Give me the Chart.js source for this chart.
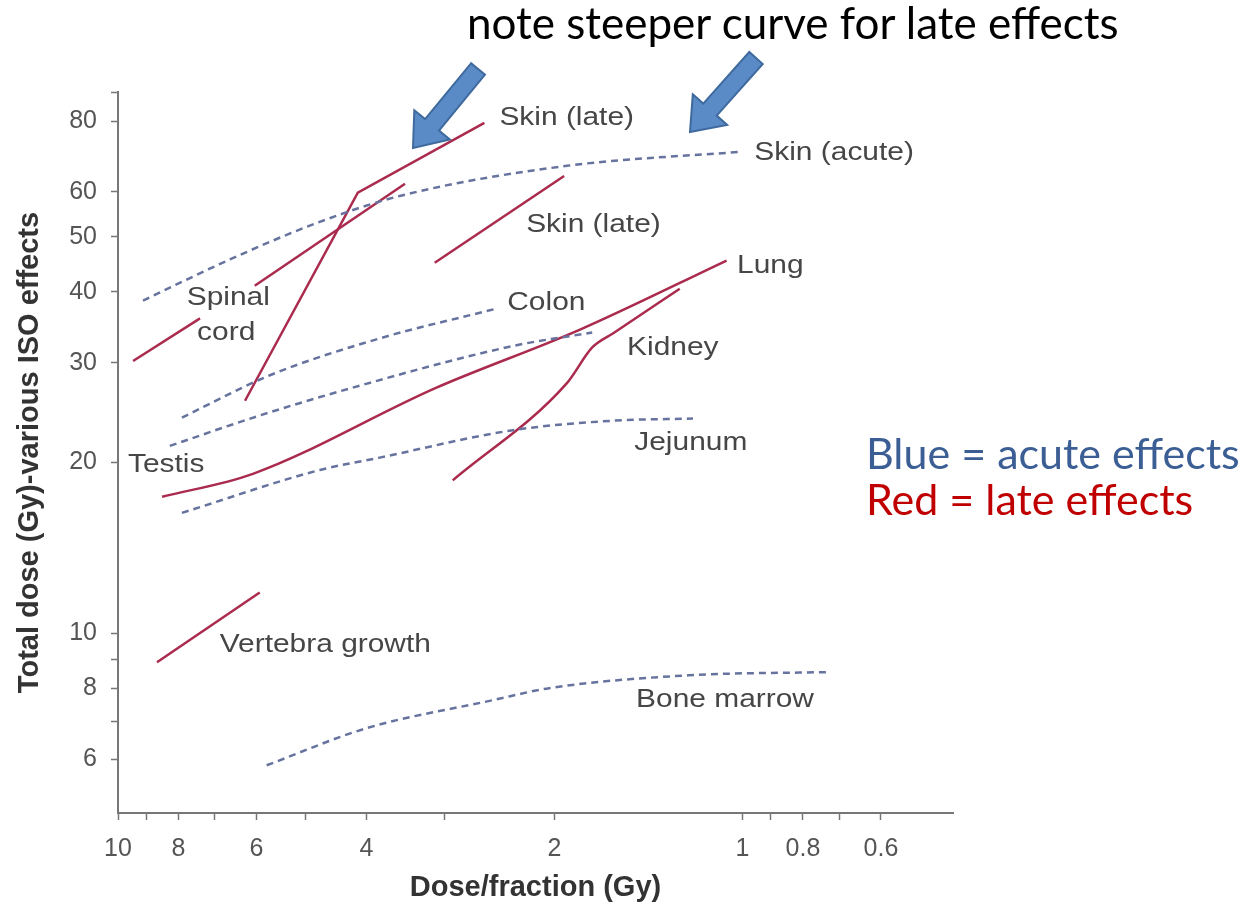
<!DOCTYPE html>
<html>
<head>
<meta charset="utf-8">
<script src="https://cdn.jsdelivr.net/npm/chart.js@4.4.1/dist/chart.umd.min.js"></script>
<style>
  body { margin: 0; background: #fff; }
  #wrap { position: relative; width: 1251px; height: 907px; }
  canvas { position: absolute; left: 0; top: 0; }
  .note { position: absolute; font-family: Lato, "Open Sans", sans-serif; white-space: nowrap; line-height: 1.2; }
</style>
</head>
<body>
<div id="wrap">
  <canvas id="isoChart" width="1251" height="907"></canvas>
  <div class="note" style="left:467px; top:-4px; font-size:44px; color:#000;">note steeper curve for late effects</div>
  <div class="note" style="left:866px; top:427px; font-size:43px; color:#3B5E94;">Blue = acute effects</div>
  <div class="note" style="left:866px; top:473px; font-size:43px; color:#C00000;">Red = late effects</div>
</div>
<script>
// ticks of both log axes
const xTickValues = [10, 9, 8, 7, 6, 5, 4, 3, 2, 1, 0.9, 0.8, 0.7, 0.6];
const xTickLabels = [10, 8, 6, 4, 2, 1, 0.8, 0.6];
const yTickValues = [90, 80, 60, 50, 40, 30, 20, 10, 9, 8, 7, 6];
const yTickLabels = [80, 60, 50, 40, 30, 20, 10, 8, 6];

// late effects (red, solid) - dose per fraction / total dose
const spinalCordDose = [9.46, 7.39];
const spinalCordTotal = [30.2, 35.9];
const skinLateADose = [6.04, 3.47];
const skinLateATotal = [41.0, 62.0];
const skinLateSteepDose = [6.26, 4.13, 2.59];
const skinLateSteepTotal = [25.7, 59.8, 79.4];
const skinLateBDose = [3.11, 1.93];
const skinLateBTotal = [45.0, 64.0];
const lungDose = [8.5, 6.08, 3.09, 1.82, 1.06];
const lungTotal = [17.4, 19.1, 27.1, 34.3, 45.4];
const kidneyDose = [2.91, 1.91, 1.74, 1.61, 1.26];
const kidneyTotal = [18.6, 27.6, 31.9, 33.8, 40.5];
const vertebraDose = [8.66, 5.93];
const vertebraTotal = [8.89, 11.8];

// acute effects (blue, dashed)
const skinAcuteDose = [9.12, 6.62, 4.80, 3.54, 1.91, 1.01];
const skinAcuteTotal = [38.6, 45.6, 52.9, 59.0, 66.7, 70.6];
const colonDose = [7.90, 5.71, 3.81, 2.49];
const colonTotal = [24.0, 28.5, 33.1, 37.3];
const testisDose = [8.26, 5.93, 4.21, 2.33, 1.74];
const testisTotal = [21.4, 24.2, 27.1, 32.1, 33.9];
const jejunumDose = [7.90, 4.75, 3.81, 2.33, 1.61, 1.20];
const jejunumTotal = [16.3, 19.4, 20.4, 22.8, 23.7, 23.9];
const boneMarrowDose = [5.78, 4.00, 2.51, 2.04, 1.22, 0.731];
const boneMarrowTotal = [5.85, 6.80, 7.62, 8.00, 8.43, 8.54];

// curve names, anchored in data units (left edge of text)
const curveLabelText = ["Skin (late)", "Skin (acute)", "Skin (late)", "Spinal", "cord", "Colon", "Lung", "Kidney", "Jejunum", "Testis", "Vertebra growth", "Bone marrow"];
const curveLabelDose = [2.45, 0.957, 2.22, 7.76, 7.47, 2.38, 1.02, 1.53, 1.49, 9.64, 6.87, 1.48];
const curveLabelTotal = [81.0, 70.3, 52.5, 39.0, 33.9, 38.3, 44.4, 31.9, 21.7, 19.8, 9.53, 7.62];

const RED = "#AA2B4E";
const BLUE = "#67739F";

function toPoints(xs, ys) {
    return xs.map((x, i) => ({ x: x, y: ys[i] }));
}

function late(xs, ys, smooth) {
    return { data: toPoints(xs, ys), borderColor: RED, borderWidth: 2.5, pointRadius: 0,
             cubicInterpolationMode: smooth ? "monotone" : "default", tension: 0, fill: false };
}

function acute(xs, ys) {
    return { data: toPoints(xs, ys), borderColor: BLUE, borderWidth: 2.5, borderDash: [7, 5], pointRadius: 0,
             cubicInterpolationMode: "monotone", fill: false };
}

const datasets = [
    acute(skinAcuteDose, skinAcuteTotal),
    acute(colonDose, colonTotal),
    acute(testisDose, testisTotal),
    acute(jejunumDose, jejunumTotal),
    acute(boneMarrowDose, boneMarrowTotal),
    late(spinalCordDose, spinalCordTotal, false),
    late(skinLateADose, skinLateATotal, false),
    late(skinLateSteepDose, skinLateSteepTotal, false),
    late(skinLateBDose, skinLateBTotal, false),
    late(lungDose, lungTotal, true),
    late(kidneyDose, kidneyTotal, true),
    late(vertebraDose, vertebraTotal, false)
];

// block arrow from tail centre to tip
function blockArrow(ctx, tx, ty, hx, hy) {
    const len = Math.hypot(hx - tx, hy - ty);
    const ux = (hx - tx) / len, uy = (hy - ty) / len;
    const px = -uy, py = ux;
    const shaft = 9, head = 23, headLen = 30;
    const bx = hx - ux * headLen, by = hy - uy * headLen;
    ctx.beginPath();
    ctx.moveTo(tx + px * shaft, ty + py * shaft);
    ctx.lineTo(bx + px * shaft, by + py * shaft);
    ctx.lineTo(bx + px * head, by + py * head);
    ctx.lineTo(hx, hy);
    ctx.lineTo(bx - px * head, by - py * head);
    ctx.lineTo(bx - px * shaft, by - py * shaft);
    ctx.lineTo(tx - px * shaft, ty - py * shaft);
    ctx.closePath();
    ctx.fillStyle = "#5B8BC7";
    ctx.fill();
    ctx.lineWidth = 2;
    ctx.strokeStyle = "#3E6A9E";
    ctx.stroke();
}

const annotations = {
    id: "annotations",
    afterDatasetsDraw(chart) {
        const ctx = chart.ctx;
        const xs = chart.scales.x, ys = chart.scales.y;
        ctx.save();
        ctx.font = "26px 'Liberation Sans', Arial, sans-serif";
        ctx.fillStyle = "#464646";
        ctx.textBaseline = "middle";
        ctx.textAlign = "left";
        curveLabelText.forEach((t, i) => {
            const px = xs.getPixelForValue(curveLabelDose[i]);
            const py = ys.getPixelForValue(curveLabelTotal[i]);
            ctx.save();
            ctx.translate(px, py);
            ctx.scale(1.15, 1);
            ctx.fillText(t, 0, 0);
            ctx.restore();
        });
        ctx.restore();
    },
    afterDraw(chart) {
        const ctx = chart.ctx;
        ctx.save();
        blockArrow(ctx, 478, 69, 413, 148);
        blockArrow(ctx, 756, 58, 690, 132);
        ctx.restore();
    }
};

const tickFont = { family: "'Liberation Sans', Arial, sans-serif", size: 25 };
const titleFont = { family: "'Liberation Sans', Arial, sans-serif", size: 29, weight: "bold" };

const ctx = document.getElementById("isoChart").getContext("2d");
new Chart(ctx, {
    type: "line",
    data: { datasets: datasets },
    plugins: [annotations],
    options: {
        responsive: false,
        animation: false,
        layout: { padding: { top: 92, right: 298, left: 0, bottom: 0 } },
        plugins: { legend: { display: false }, tooltip: { enabled: false } },
        scales: {
            x: {
                type: "logarithmic",
                reverse: true,
                min: 0.46,
                max: 10,
                afterBuildTicks: s => { s.ticks = xTickValues.map(v => ({ value: v })); },
                afterFit: s => { s.height = 94; },
                ticks: {
                    autoSkip: false, maxRotation: 0, padding: 14, color: "#555", font: tickFont,
                    callback: v => xTickLabels.includes(v) ? String(v) : ""
                },
                grid: { drawOnChartArea: false, tickLength: 7, tickWidth: 1.5, tickColor: "#777" },
                border: { color: "#777", width: 2 },
                title: { display: true, text: "Dose/fraction (Gy)", color: "#333", font: titleFont, padding: { top: 0, bottom: 2 } }
            },
            y: {
                type: "logarithmic",
                min: 4.82,
                max: 90,
                afterBuildTicks: s => { s.ticks = yTickValues.map(v => ({ value: v })); },
                afterFit: s => { s.width = 118; },
                ticks: {
                    autoSkip: false, padding: 14, color: "#555", font: tickFont,
                    callback: v => yTickLabels.includes(v) ? String(v) : ""
                },
                grid: { drawOnChartArea: false, tickLength: 7, tickWidth: 1.5, tickColor: "#777" },
                border: { color: "#777", width: 2 },
                title: { display: true, text: "Total dose (Gy)-various ISO effects", color: "#333", font: titleFont, padding: { top: 13, bottom: 0 } }
            }
        }
    }
});
</script>
</body>
</html>
